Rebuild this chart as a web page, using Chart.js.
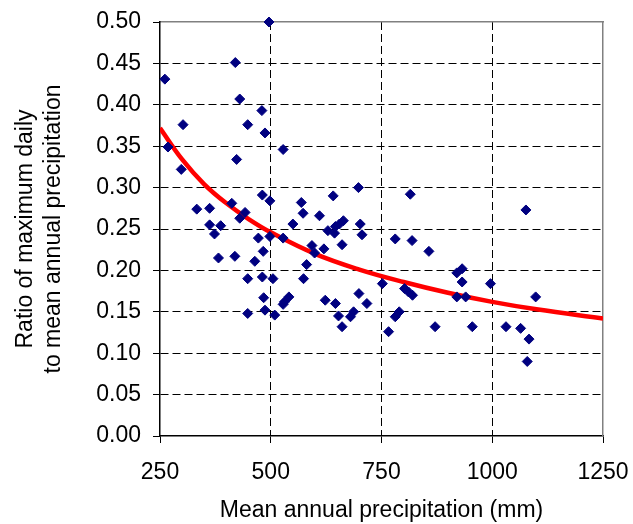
<!DOCTYPE html>
<html>
<head>
<meta charset="utf-8">
<script src="https://cdn.jsdelivr.net/npm/chart.js@4.4.1/dist/chart.umd.min.js"></script>
<style>
  body { margin: 0; background: #fff; }
</style>
</head>
<body>
<canvas id="myChart" width="633" height="524"></canvas>
<script>
// station data
const precip = [261, 496, 420, 430, 480, 448, 487, 302, 268, 528, 423, 298, 481, 498, 412, 569, 573, 610, 442, 430,
  333, 362, 362, 387, 550, 373, 472, 498, 528, 593, 599, 483, 382, 419, 464, 581, 448, 481, 505, 574,
  484, 541, 531, 528, 487, 448, 509, 641, 698, 815, 629, 646, 664, 655, 644, 702, 706, 661, 781, 819,
  857, 620, 752, 920, 932, 932, 802, 811, 820, 920, 940, 623, 646, 699, 717, 653, 661, 680, 687, 781,
  790, 766, 871, 955, 1076, 996, 1098, 1031, 1064, 1083, 1079];
const ratio = [0.431, 0.500, 0.451, 0.407, 0.393, 0.376, 0.366, 0.376, 0.349, 0.346, 0.334, 0.322, 0.291, 0.284, 0.281, 0.282, 0.269, 0.266, 0.270, 0.263,
  0.274, 0.275, 0.255, 0.254, 0.256, 0.244, 0.239, 0.241, 0.239, 0.230, 0.221, 0.223, 0.215, 0.217, 0.211, 0.207, 0.190, 0.192, 0.190, 0.190,
  0.167, 0.168, 0.162, 0.159, 0.152, 0.148, 0.146, 0.290, 0.300, 0.292, 0.248, 0.253, 0.260, 0.256, 0.245, 0.256, 0.243, 0.231, 0.238, 0.236,
  0.223, 0.226, 0.184, 0.197, 0.202, 0.186, 0.178, 0.174, 0.170, 0.168, 0.168, 0.164, 0.160, 0.172, 0.160, 0.145, 0.132, 0.144, 0.150, 0.144,
  0.150, 0.126, 0.132, 0.132, 0.273, 0.184, 0.168, 0.132, 0.130, 0.117, 0.090];

// fitted curve
const fitX = [250, 300, 350, 400, 450, 500, 600, 700, 800, 900, 1000, 1100, 1250];
const fitY = [0.372, 0.334, 0.304, 0.281, 0.262, 0.246, 0.220, 0.201, 0.186, 0.173, 0.162, 0.153, 0.142];

const xTicks = [250, 500, 750, 1000, 1250];

const font = { family: "'Liberation Sans', Arial, sans-serif", size: 23 };

const data = {
  datasets: [{
    label: 'stations',
    data: precip.map((p, i) => ({ x: p, y: ratio[i] })),
    pointStyle: 'rectRot',
    pointRadius: 5,
    backgroundColor: '#000080',
    borderColor: '#000080',
    borderWidth: 1,
    clip: false,
    order: 1
  }, {
    label: 'fit',
    data: fitX.map((p, i) => ({ x: p, y: fitY[i] })),
    showLine: true,
    pointRadius: 0,
    borderColor: '#ff0000',
    borderWidth: 4.5,
    tension: 0.4,
    order: 2
  }]
};

const config = {
  type: 'scatter',
  data: data,
  options: {
    responsive: false,
    animation: false,
    layout: { padding: { left: 0, right: 30, top: 22, bottom: 0 } },
    plugins: { legend: { display: false }, tooltip: { enabled: false } },
    scales: {
      x: {
        type: 'linear',
        min: 250,
        max: 1250,
        afterBuildTicks: function (s) { s.ticks = xTicks.map(v => ({ value: v })); },
        afterFit: function (s) { s.height = 88; s.paddingLeft = 0; s.paddingRight = 0; },
        border: { color: '#000', width: 1.5, dash: [8, 4] },
        grid: {
          color: c => (c.tick && [500, 750, 1000].includes(c.tick.value)) ? '#000' : 'rgba(0,0,0,0)',
          lineWidth: 1,
          tickColor: '#000',
          tickLength: 7,
          tickBorderDash: []
        },
        ticks: { color: '#000', font: font, padding: 16, maxRotation: 0, callback: v => String(v) },
        title: { display: true, text: 'Mean annual precipitation (mm)', color: '#000', font: font, padding: { top: 4, bottom: 0 } }
      },
      x2: {
        type: 'linear',
        position: 'top',
        min: 250,
        max: 1250,
        afterFit: function (s) { s.height = 0; },
        border: { color: '#808080', width: 1.5 },
        grid: { display: false },
        ticks: { display: false }
      },
      y: {
        min: 0,
        max: 0.5,
        ticks: {
          stepSize: 0.05,
          color: '#000',
          font: font,
          padding: 12,
          callback: v => v.toFixed(2)
        },
        afterFit: function (s) { s.width = 160; s.paddingTop = 0; s.paddingBottom = 0; },
        border: { color: '#000', width: 1.5, dash: [8, 4] },
        grid: {
          color: c => (c.tick && c.tick.value > 0.001 && c.tick.value < 0.499) ? '#000' : 'rgba(0,0,0,0)',
          lineWidth: 1,
          tickColor: '#000',
          tickLength: 7,
          tickBorderDash: []
        },
        title: {
          display: true,
          text: ['Ratio of maximum daily', 'to mean annual precipitation'],
          color: '#000',
          font: font,
          padding: { top: 12, bottom: 4 }
        }
      },
      y2: {
        position: 'right',
        min: 0,
        max: 0.5,
        afterFit: function (s) { s.width = 0; },
        border: { color: '#808080', width: 1.5 },
        grid: { display: false },
        ticks: { display: false }
      }
    }
  }
};

const myChart = new Chart(document.getElementById('myChart'), config);
</script>
</body>
</html>
